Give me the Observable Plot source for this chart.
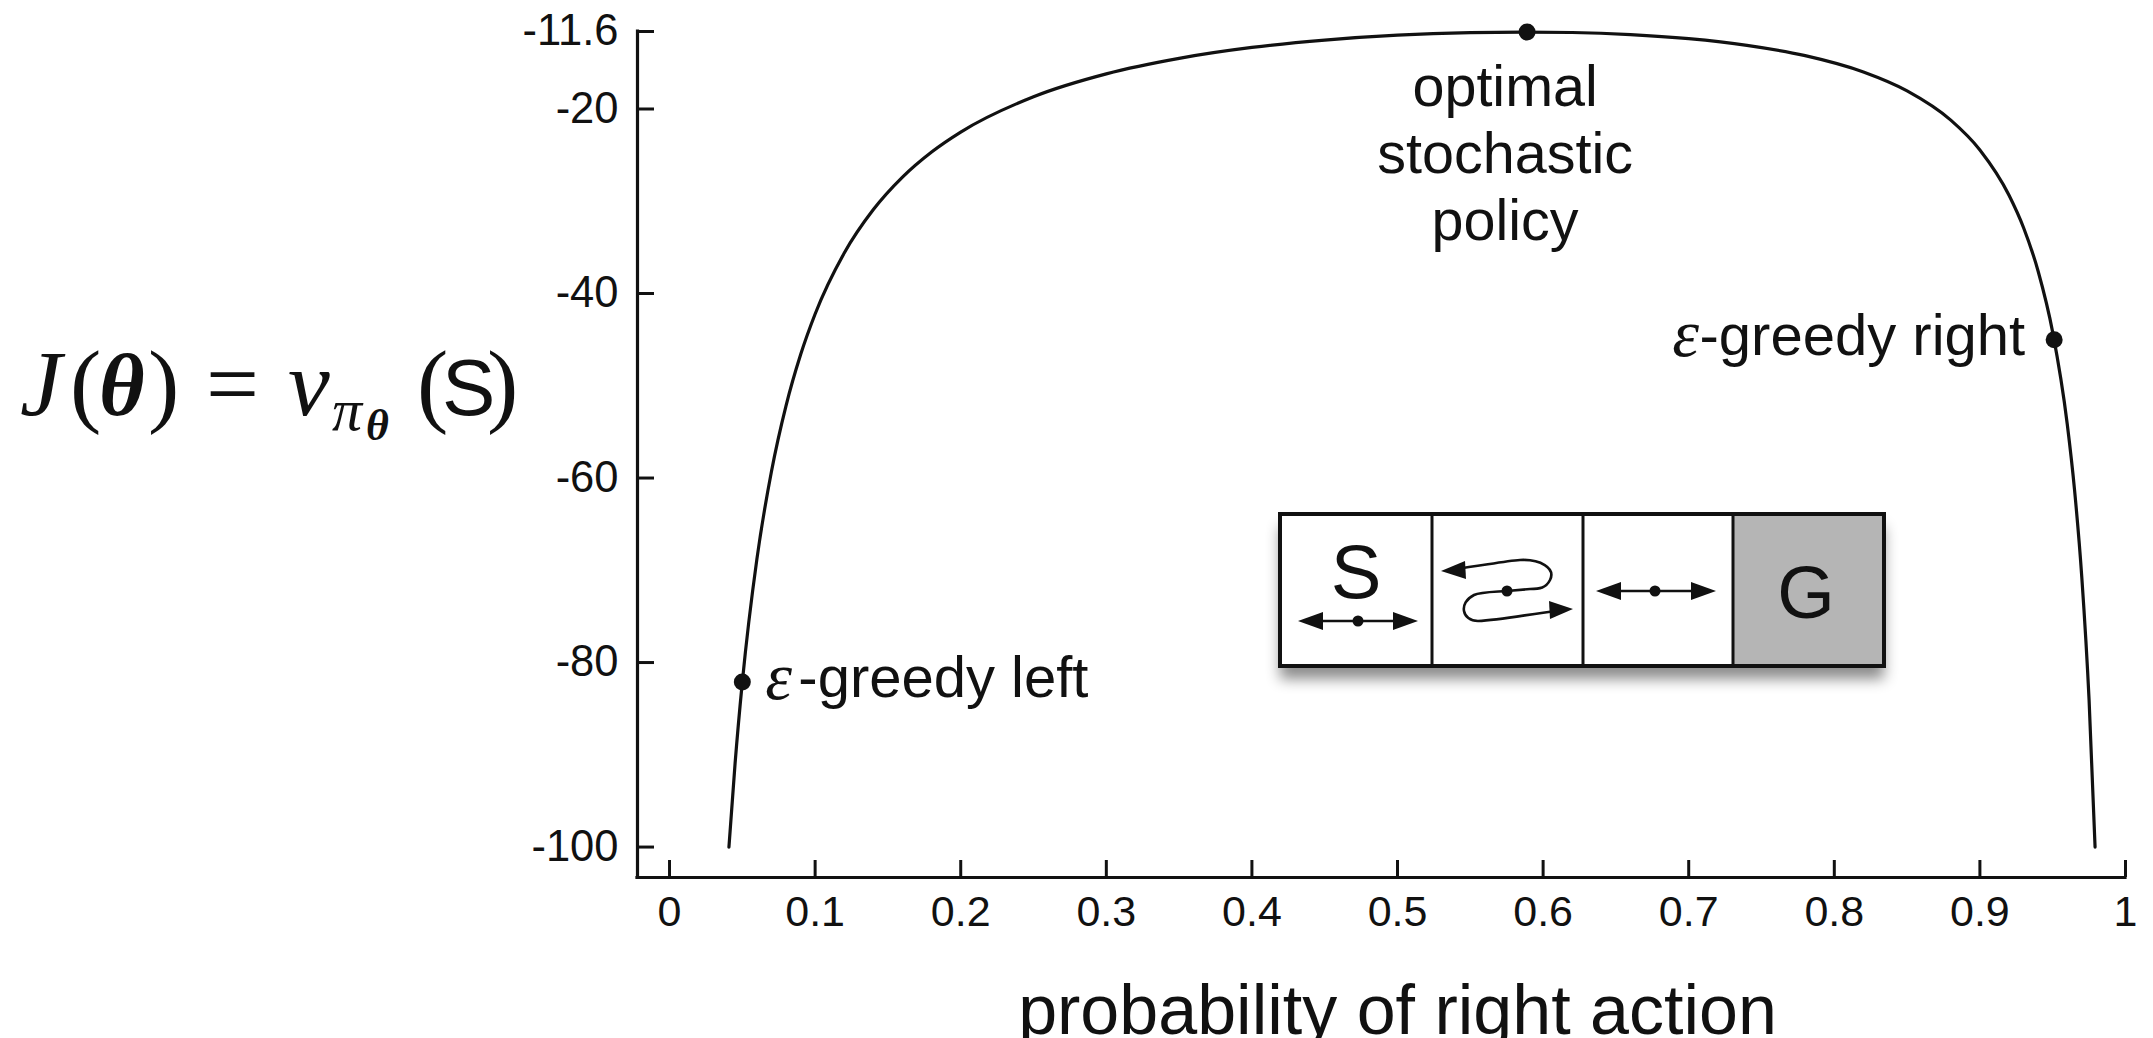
<!DOCTYPE html>
<html>
<head>
<meta charset="utf-8">
<script src="https://cdn.jsdelivr.net/npm/d3@7"></script>
<script src="https://cdn.jsdelivr.net/npm/@observablehq/plot@0.6"></script>
<style>
  html, body { margin: 0; padding: 0; background: #fff; }
  #wrap { position: relative; width: 2153px; height: 1038px; overflow: hidden; background: #fff; }
  #wrap > svg.plot { position: absolute; left: 0; top: 0; }
  #overlay { position: absolute; left: 0; top: 0; pointer-events: none; }
</style>
</head>
<body>
<div id="wrap"></div>
<script>
// ---- data ----
const probRight = [0.0408, 0.045, 0.05, 0.06, 0.07, 0.08, 0.09, 0.10, 0.12, 0.14, 0.16, 0.18, 0.20, 0.25, 0.30, 0.35, 0.40, 0.45, 0.50, 0.55, 0.5858, 0.62, 0.66, 0.70, 0.74, 0.78, 0.82, 0.85, 0.88, 0.90, 0.92, 0.93, 0.94, 0.95, 0.96, 0.965, 0.97, 0.975, 0.9791];
const valueJ = [-100, -90.98, -82.11, -68.79, -59.29, -52.17, -46.64, -42.22, -35.61, -30.90, -27.38, -24.66, -22.5, -18.67, -16.19, -14.51, -13.33, -12.53, -12.0, -11.72, -11.66, -11.71, -11.94, -12.38, -13.10, -14.22, -15.99, -18.04, -21.21, -24.44, -29.35, -32.87, -37.59, -44.21, -54.17, -61.29, -70.79, -84.10, -100];

const markerP = [0.05, 0.589, 0.951];
const markerJ = [-82.1, -11.66, -45.0];
const markerLabels = ["-greedy left", "optimal\nstochastic\npolicy", "-greedy right"];

const xTicks = [0, 0.1, 0.2, 0.3, 0.4, 0.5, 0.6, 0.7, 0.8, 0.9, 1];
const xTickLabels = ["0", "0.1", "0.2", "0.3", "0.4", "0.5", "0.6", "0.7", "0.8", "0.9", "1"];
const yTicks = [-11.6, -20, -40, -60, -80, -100];
const yTickLabels = ["-11.6", "-20", "-40", "-60", "-80", "-100"];
const xDomain = [-0.022, 1];
const yDomain = [-103.3, -11.6];
const xLabel = "probability of right action";

// ---- build ----
const curveData = probRight.map((p, i) => ({p, J: valueJ[i]}));
const markers = markerP.map((p, i) => ({p, J: markerJ[i], label: markerLabels[i]}));
const sans = "'Liberation Sans', Arial, Helvetica, sans-serif";
const serif = "'Liberation Serif', 'DejaVu Serif', serif";

const plot = Plot.plot({
  width: 2153,
  height: 1038,
  marginLeft: 637,
  marginRight: 28,
  marginTop: 31,
  marginBottom: 161,
  style: {fontFamily: sans, background: "white", color: "#111", overflow: "visible"},
  x: {domain: xDomain},
  y: {domain: yDomain},
  marks: [
    Plot.ruleX([xDomain[0]], {stroke: "#111", strokeWidth: 3.2, strokeLinecap: "square"}),
    Plot.ruleY([yDomain[0]], {stroke: "#111", strokeWidth: 3.2, strokeLinecap: "square"}),
    Plot.axisY({ticks: yTicks, tickFormat: d => yTickLabels[yTicks.indexOf(d)], tickSize: 17, dx: 17, tickPadding: 19, fontSize: 43.5, strokeWidth: 3, label: null}),
    Plot.axisX({ticks: xTicks, tickFormat: d => xTickLabels[xTicks.indexOf(d)], tickSize: 17, dy: -17, tickPadding: 18, fontSize: 43, strokeWidth: 3, label: null}),
    Plot.line(curveData, {x: "p", y: "J", stroke: "#111", strokeWidth: 3.2, curve: "monotone-x"}),
    Plot.dot(markers, {x: "p", y: "J", r: 8.5, fill: "#111", stroke: null}),
    // epsilon-greedy left
    Plot.text(markers.slice(0, 1), {x: "p", y: "J", text: () => "ε", fontFamily: serif, fontStyle: "italic", fontSize: 68, textAnchor: "start", dx: 23, dy: -5, fill: "#111"}),
    Plot.text(markers.slice(0, 1), {x: "p", y: "J", text: "label", fontSize: 58, textAnchor: "start", dx: 56, dy: -3, fill: "#111"}),
    // optimal stochastic policy
    Plot.text(markers.slice(1, 2), {x: "p", y: "J", text: "label", fontSize: 57.5, textAnchor: "middle", lineAnchor: "top", lineHeight: 1.16, dx: -22, dy: 27, fill: "#111"}),
    // epsilon-greedy right
    Plot.text(markers.slice(2, 3), {x: "p", y: "J", text: "label", fontSize: 58, textAnchor: "end", dx: -29, dy: -3, fill: "#111"}),
    Plot.text(markers.slice(2, 3), {x: "p", y: "J", text: () => "ε", fontFamily: serif, fontStyle: "italic", fontSize: 68, textAnchor: "end", dx: -355, dy: -5, fill: "#111"}),
    // x label
    Plot.text([xLabel], {frameAnchor: "bottom", dx: 16, dy: 156, lineAnchor: "bottom", fontSize: 70, fill: "#111"})
  ]
});
plot.classList.add("plot");
document.getElementById("wrap").appendChild(plot);

// ---- overlay: y label formula and gridworld inset ----
const ns = "http://www.w3.org/2000/svg";
const ov = document.createElementNS(ns, "svg");
ov.setAttribute("id", "overlay");
ov.setAttribute("width", 2153);
ov.setAttribute("height", 1038);
ov.innerHTML = `
<defs>
  <filter id="sh" x="-10%" y="-20%" width="120%" height="170%">
    <feDropShadow dx="0" dy="13" stdDeviation="7" flood-color="#000" flood-opacity="0.45"/>
  </filter>
</defs>
<g fill="#111" font-family="${serif}">
  <text x="20" y="415" font-size="94" font-style="italic">J</text>
  <text x="70" y="415" font-size="94">(</text>
  <text x="99" y="415" font-size="88" font-style="italic" font-weight="bold">θ</text>
  <text x="148" y="415" font-size="94">)</text>
  <text x="206" y="415" font-size="94">=</text>
  <text x="288" y="415" font-size="94" font-style="italic">v</text>
  <text x="332" y="430" font-size="60" font-style="italic">π</text>
  <text x="366" y="440" font-size="44" font-style="italic" font-weight="bold">θ</text>
  <text x="417" y="415" font-size="94">(</text>
  <text x="442" y="415" font-size="80" font-family="${sans}">S</text>
  <text x="487" y="415" font-size="94">)</text>
</g>
<g>
  <rect x="1280" y="514" width="604" height="152" fill="#fff" filter="url(#sh)"/>
  <rect x="1733" y="514" width="151" height="152" fill="#b5b5b5"/>
  <g stroke="#111" stroke-width="3">
    <line x1="1432" y1="514" x2="1432" y2="666"/>
    <line x1="1583" y1="514" x2="1583" y2="666"/>
    <line x1="1733" y1="514" x2="1733" y2="666"/>
  </g>
  <rect x="1280" y="514" width="604" height="152" fill="none" stroke="#111" stroke-width="4"/>
  <text x="1356" y="598" font-size="76" text-anchor="middle" font-family="${sans}" fill="#111">S</text>
  <text x="1806" y="618" font-size="74" text-anchor="middle" font-family="${sans}" fill="#111">G</text>
  <g stroke="#111" stroke-width="2.6" fill="none">
    <line x1="1310" y1="621" x2="1406" y2="621"/>
    <line x1="1608" y1="591" x2="1704" y2="591"/>
    <path d="M1455,569 C1480,566 1505,561 1520,560 C1540,559 1556,568 1550,580 C1546,588 1540,589 1530,589 L1507,591 C1492,592 1480,592 1474,595 C1458,603 1462,621 1478,621 C1500,620 1530,614 1556,611"/>
  </g>
  <g fill="#111">
    <polygon points="1298,621 1323,612 1323,630"/>
    <polygon points="1418,621 1393,612 1393,630"/>
    <circle cx="1358" cy="621" r="5.5"/>
    <polygon points="1596,591 1621,582 1621,600"/>
    <polygon points="1716,591 1691,582 1691,600"/>
    <circle cx="1655" cy="591" r="5.5"/>
    <polygon points="1441,571 1465,561 1466,579"/>
    <polygon points="1573,609 1549,601 1550,619"/>
    <circle cx="1507" cy="591" r="5.5"/>
  </g>
</g>`;
document.getElementById("wrap").appendChild(ov);
</script>
</body>
</html>
